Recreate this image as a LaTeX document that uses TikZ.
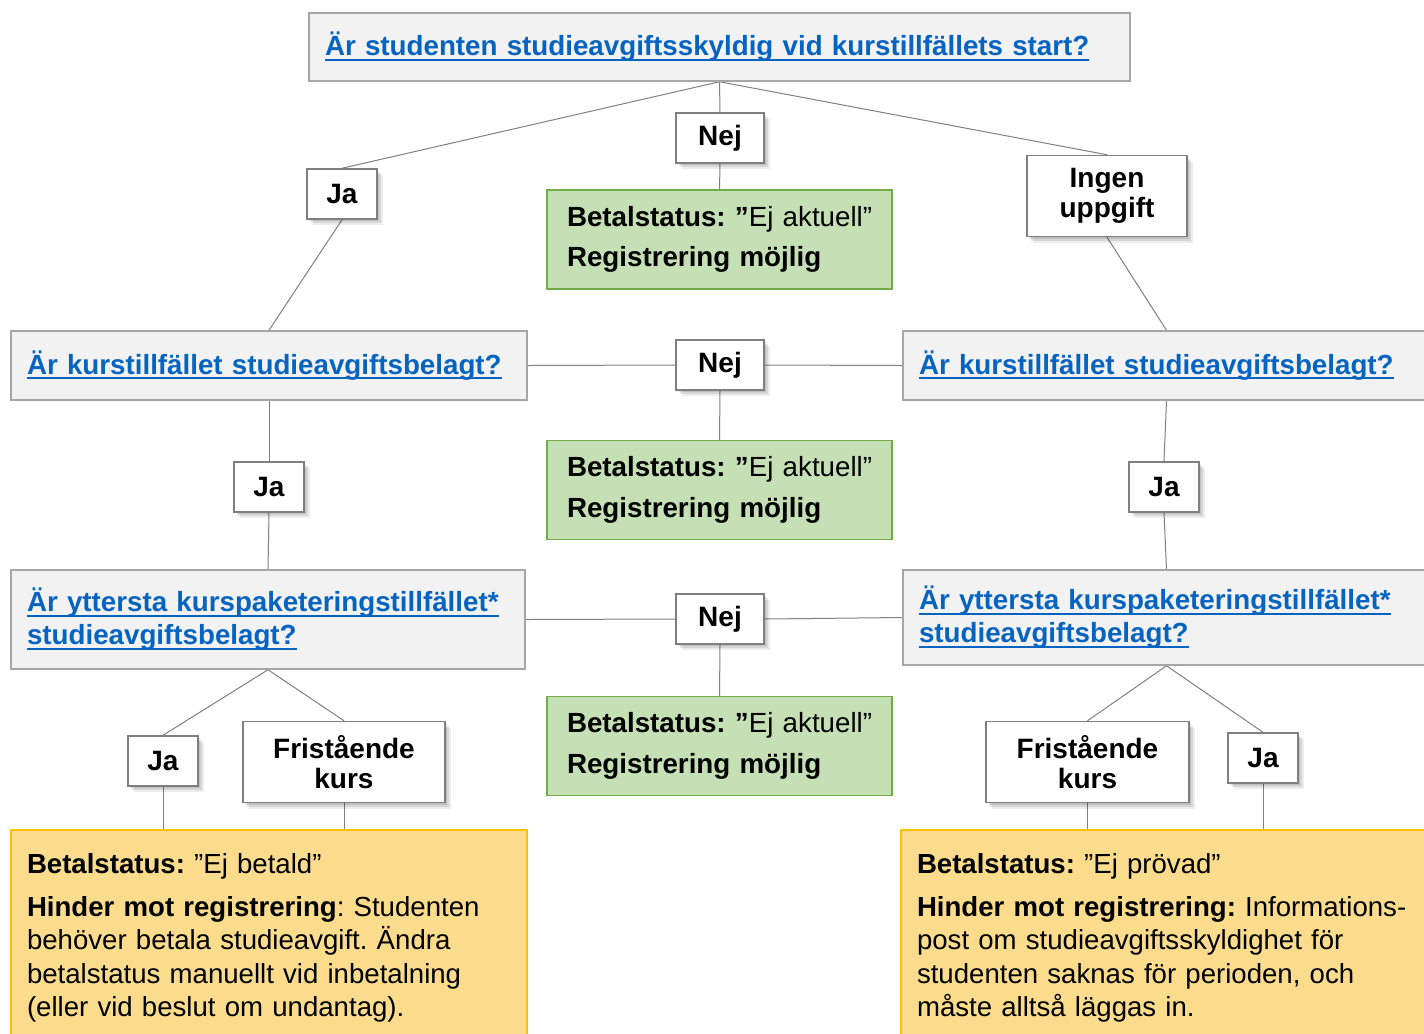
\documentclass[tikz,border=0pt]{standalone}
\usepackage{fontspec}
\setmainfont{Liberation Sans}
\usetikzlibrary{shadows,backgrounds}
\frenchspacing
\hyphenpenalty=10000
\definecolor{qblue}{HTML}{0563C1}
\definecolor{qfill}{HTML}{F2F2F2}
\definecolor{qdraw}{HTML}{A6A6A6}
\definecolor{ldraw}{HTML}{7F7F7F}
\definecolor{gfill}{HTML}{C5E0B4}
\definecolor{gdraw}{HTML}{70AD47}
\definecolor{yfill}{HTML}{FADC8C}
\definecolor{ydraw}{HTML}{FFC000}
\definecolor{conncol}{HTML}{808080}
\newdimen\px \px=0.75pt
\newsavebox\qtbox
\newcommand\qt[1]{\leavevmode\sbox\qtbox{#1}\rlap{\rule[-3.8pt]{\wd\qtbox}{1.5pt}}\usebox\qtbox}
\newcommand\oneline[1]{\leavevmode\hbox{#1}}
\tikzset{
  softshadow/.style={
    general shadow={shadow xshift=2\px, shadow yshift=-2\px, fill=black, opacity=0.10},
    general shadow={shadow xshift=4\px, shadow yshift=-4\px, fill=black, opacity=0.10},
    general shadow={shadow xshift=6\px, shadow yshift=-6\px, fill=black, opacity=0.07}},
  qbox/.style={draw=qdraw, fill=qfill, line width=1.5\px, inner xsep=16\px, inner ysep=0pt,
    align=left, text=qblue, font=\fontsize{20.8pt}{24.75pt}\selectfont\bfseries},
  lbl/.style={draw=ldraw, fill=white, line width=1.5\px, inner sep=0pt, align=center,
    font=\fontsize{21pt}{22.5pt}\selectfont\bfseries, softshadow},
  gbox/.style={draw=gdraw, fill=gfill, line width=1.2\px, inner xsep=20\px, inner ysep=0pt,
    align=left, minimum width=345\px, minimum height=99\px, text width=305\px,
    font=\fontsize{20.8pt}{25pt}\selectfont},
  ybox/.style={draw=ydraw, fill=yfill, line width=1.5\px, inner xsep=16\px, inner ysep=0pt,
    align=left, font=\fontsize{20.7pt}{25.1pt}\selectfont},
  conn/.style={draw=conncol, line width=1\px},
}
\begin{document}
\begin{tikzpicture}[x=1\px, y=-1\px]
\useasboundingbox (0,0) rectangle (1424,1033);

% question boxes
\node[qbox, minimum width=821\px, minimum height=68\px, text width=789\px] (q1) at (719.5,47)
  {\qt{Är studenten studieavgiftsskyldig vid kurstillfällets start?}};
\node[qbox, minimum width=516\px, minimum height=69\px, text width=484\px] (q2l) at (269,365.5)
  {\qt{Är kurstillfället studieavgiftsbelagt?}};
\node[qbox, minimum width=527\px, minimum height=69\px, text width=495\px] (q2r) at (1166.5,365.5)
  {\qt{Är kurstillfället studieavgiftsbelagt?}};
\node[qbox, minimum width=514\px, minimum height=99\px, text width=482\px] (q3l) at (268,619.5)
  {\qt{Är yttersta kurspaketeringstillfället*}\\\qt{studieavgiftsbelagt?}};
\node[qbox, minimum width=527\px, minimum height=95\px, text width=495\px] (q3r) at (1166.5,617.5)
  {\qt{Är yttersta kurspaketeringstillfället*}\\\qt{studieavgiftsbelagt?}};

% green result boxes
\node[gbox] (g1) at (719.5,239.5)
  {\oneline{\textbf{Betalstatus: ”}Ej aktuell”}\\[5.5pt]\oneline{\textbf{Registrering möjlig}}};
\node[gbox] (g2) at (719.5,490)
  {\oneline{\textbf{Betalstatus: ”}Ej aktuell”}\\[5.5pt]\oneline{\textbf{Registrering möjlig}}};
\node[gbox] (g3) at (719.5,746)
  {\oneline{\textbf{Betalstatus: ”}Ej aktuell”}\\[5.5pt]\oneline{\textbf{Registrering möjlig}}};

% yellow result boxes
\node[ybox, minimum width=516\px, minimum height=216\px, text width=484\px] (yl) at (269,938)
  {\oneline{\textbf{Betalstatus:} ”Ej betald”}\\[7pt]
   \oneline{\textbf{Hinder mot registrering}: Studenten}\\
   \oneline{behöver betala studieavgift. Ändra}\\
   \oneline{betalstatus manuellt vid inbetalning}\\
   \oneline{(eller vid beslut om undantag).}};
\node[ybox, minimum width=529\px, minimum height=216\px, text width=497\px] (yr) at (1165.5,938)
  {\oneline{\textbf{Betalstatus:} ”Ej prövad”}\\[7pt]
   \oneline{\textbf{Hinder mot registrering:} Informations-}\\
   \oneline{post om studieavgiftsskyldighet för}\\
   \oneline{studenten saknas för perioden, och}\\
   \oneline{måste alltså läggas in.}};

% labels
\node[lbl, minimum width=88\px, minimum height=50\px] (nej1) at (720,138) {Nej};
\node[lbl, minimum width=70\px, minimum height=50\px] (ja1) at (342,194) {Ja};
\node[lbl, minimum width=160\px, minimum height=81\px] (ingen) at (1107,196) {Ingen\\uppgift};
\node[lbl, minimum width=88\px, minimum height=50\px] (nej2) at (720,365) {Nej};
\node[lbl, minimum width=70\px, minimum height=50\px] (ja2l) at (269,487) {Ja};
\node[lbl, minimum width=70\px, minimum height=50\px] (ja2r) at (1164,487) {Ja};
\node[lbl, minimum width=88\px, minimum height=50\px] (nej3) at (720,619) {Nej};
\node[lbl, minimum width=70\px, minimum height=50\px] (ja3l) at (163,761) {Ja};
\node[lbl, minimum width=202\px, minimum height=81\px] (fril) at (344,762) {Fristående\\kurs};
\node[lbl, minimum width=203\px, minimum height=81\px] (frir) at (1087.5,762) {Fristående\\kurs};
\node[lbl, minimum width=70\px, minimum height=50\px] (ja3r) at (1263,758) {Ja};

% connectors
\begin{pgfonlayer}{background}
\path[conn] (q1.south) -- (ja1.north);
\path[conn] (q1.south) -- (nej1.north);
\path[conn] (q1.south) -- (ingen.north);
\path[conn] (nej1.south) -- (g1.north);
\path[conn] (ja1.south) -- (q2l.north);
\path[conn] (ingen.south) -- (q2r.north);
\path[conn] (q2l.east) -- (nej2.west);
\path[conn] (nej2.east) -- (q2r.west);
\path[conn] (nej2.south) -- (g2.north);
\path[conn] (q2l.south) -- (ja2l.north);
\path[conn] (ja2l.south) -- (q3l.north);
\path[conn] (q2r.south) -- (ja2r.north);
\path[conn] (ja2r.south) -- (q3r.north);
\path[conn] (q3l.east) -- (nej3.west);
\path[conn] (nej3.east) -- (q3r.west);
\path[conn] (nej3.south) -- (g3.north);
\path[conn] (q3l.south) -- (ja3l.north);
\path[conn] (q3l.south) -- (fril.north);
\path[conn] (ja3l.south) -- (ja3l.south |- yl.north);
\path[conn] (fril.south) -- (fril.south |- yl.north);
\path[conn] (q3r.south) -- (frir.north);
\path[conn] (q3r.south) -- (ja3r.north);
\path[conn] (frir.south) -- (frir.south |- yr.north);
\path[conn] (ja3r.south) -- (ja3r.south |- yr.north);
\end{pgfonlayer}
\end{tikzpicture}
\end{document}
